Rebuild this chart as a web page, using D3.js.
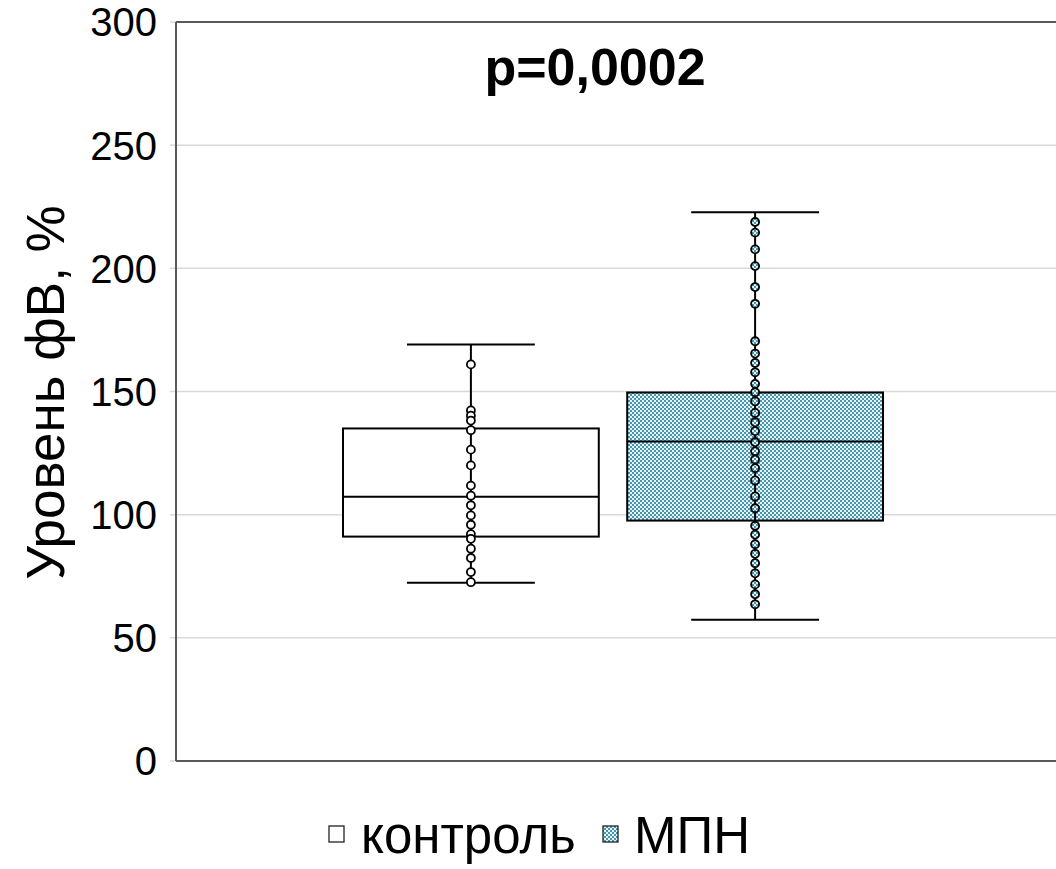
<!DOCTYPE html>
<html>
<head>
<meta charset="utf-8">
<script src="https://cdn.jsdelivr.net/npm/d3@7"></script>
<style>
  body { margin: 0; background: #fff; }
  text { font-family: "Liberation Sans", Arial, sans-serif; }
</style>
</head>
<body>
<div id="container"></div>
<script>
/* data */
var series = ["контроль", "МПН"];
var boxMin    = [72.4, 57.3];
var boxQ1     = [91.1, 97.6];
var boxMedian = [107.3, 129.7];
var boxQ3     = [135, 149.6];
var boxMax    = [169.1, 222.8];
var pointsControl = [161, 142.3, 140.2, 138.2, 134.3, 126.4, 120, 111.8, 107.7, 103.8, 99.7, 95.9, 92.1, 90.2, 86.2, 82.4, 76.7, 72.6];
var pointsMPN = [218.8, 214.5, 207.7, 200.9, 192.4, 185.6, 170.4, 165.4, 161.6, 157.8, 153.1, 149.7, 146, 141.3, 137.5, 133.9, 129.4, 125.7, 122.4, 118.9, 113.9, 107.4, 102.6, 95.5, 91.9, 88, 84.1, 80.3, 76.2, 71.7, 67.7, 63.6];
var yTicks = [0, 50, 100, 150, 200, 250, 300];
var pLabel = "p=0,0002";
var yTitle = "Уровень фВ, %";

var width = 1056, height = 869;
var margin = { top: 22, bottom: 108, left: 176, right: 6 };

var svg = d3.select("#container")
            .append("svg")
            .attr("width", width)
            .attr("height", height)

/* hatch pattern for the МПН box */
var defs = svg.append("defs")
var pat = defs.append("pattern")
              .attr("id", "hatch")
              .attr("patternUnits", "userSpaceOnUse")
              .attr("width", 4)
              .attr("height", 4)
pat.append("rect").attr("width", 4).attr("height", 4).attr("fill", "#e6f2f5")
pat.append("rect").attr("x", 0).attr("y", 0).attr("width", 2).attr("height", 2).attr("fill", "#4797ac")
pat.append("rect").attr("x", 2).attr("y", 2).attr("width", 2).attr("height", 2).attr("fill", "#4797ac")

var fills = ["#ffffff", "url(#hatch)"];
var pointSets = [pointsControl, pointsMPN];

var y = d3.scaleLinear()
          .domain([0, 300])
          .range([height - margin.bottom, margin.top])

var x = d3.scaleBand()
          .domain(series)
          .range([343, 883])
          .paddingInner(0.1)

/* gridlines */
svg.append("g")
   .selectAll("line")
   .data(yTicks)
   .enter().append("line")
     .attr("x1", margin.left - 6)
     .attr("x2", width)
     .attr("y1", function(d) { return y(d) })
     .attr("y2", function(d) { return y(d) })
     .attr("stroke", "#d9d9d9")
     .attr("stroke-width", 1.5)

/* frame lines: top, bottom, left */
var frame = svg.append("g").attr("stroke", "#595959").attr("stroke-width", 2)
frame.append("line").attr("x1", margin.left).attr("x2", width).attr("y1", y(300)).attr("y2", y(300))
frame.append("line").attr("x1", margin.left).attr("x2", width).attr("y1", y(0)).attr("y2", y(0))
frame.append("line").attr("x1", margin.left).attr("x2", margin.left).attr("y1", y(300)).attr("y2", y(0))

/* tick labels */
svg.append("g")
   .selectAll("text")
   .data(yTicks)
   .enter().append("text")
     .attr("x", 157)
     .attr("y", function(d) { return y(d) })
     .attr("dy", "0.36em")
     .attr("text-anchor", "end")
     .attr("font-size", 40)
     .attr("fill", "#000")
     .text(function(d) { return d })

/* y title */
svg.append("text")
   .attr("transform", "translate(64," + (y(150) + 1) + ") rotate(-90)")
   .attr("text-anchor", "middle")
   .attr("font-size", 53)
   .attr("fill", "#000")
   .text(yTitle)

/* p value */
svg.append("text")
   .attr("x", 595)
   .attr("y", 85)
   .attr("text-anchor", "middle")
   .attr("font-size", 52)
   .attr("font-weight", "bold")
   .attr("fill", "#000")
   .text(pLabel)

/* boxes */
var boxes = svg.append("g")
  .selectAll("g")
  .data(series)
  .enter().append("g")

boxes.each(function(s, i) {
  var g = d3.select(this)
  var x0 = x(s), bw = x.bandwidth(), cx = x0 + bw / 2
  // whisker
  g.append("line")
   .attr("x1", cx).attr("x2", cx)
   .attr("y1", y(boxMin[i])).attr("y2", y(boxMax[i]))
   .attr("stroke", "#000").attr("stroke-width", 2)
  g.append("rect")
   .attr("x", x0)
   .attr("y", y(boxQ3[i]))
   .attr("width", bw)
   .attr("height", y(boxQ1[i]) - y(boxQ3[i]))
   .attr("fill", fills[i])
   .attr("stroke", "#000")
   .attr("stroke-width", 2)
  g.append("line")
   .attr("x1", cx).attr("x2", cx)
   .attr("y1", y(boxQ3[i])).attr("y2", y(boxQ1[i]))
   .attr("stroke", "#000").attr("stroke-width", 2)
  g.append("line")
   .attr("x1", x0).attr("x2", x0 + bw)
   .attr("y1", y(boxMedian[i])).attr("y2", y(boxMedian[i]))
   .attr("stroke", "#000").attr("stroke-width", 2)
  // caps
  g.selectAll(".cap")
   .data([boxMin[i], boxMax[i]])
   .enter().append("line")
     .attr("class", "cap")
     .attr("x1", cx - bw / 4).attr("x2", cx + bw / 4)
     .attr("y1", function(d) { return y(d) })
     .attr("y2", function(d) { return y(d) })
     .attr("stroke", "#000").attr("stroke-width", 2)
  // points
  g.selectAll("circle")
   .data(pointSets[i])
   .enter().append("circle")
     .attr("cx", cx)
     .attr("cy", function(d) { return y(d) })
     .attr("r", 4)
     .attr("fill", fills[i])
     .attr("stroke", "#000")
     .attr("stroke-width", 1.8)
})

/* legend */
var legX = [329, 603], legTextX = [361, 634];
var legend = svg.append("g")
  .selectAll("g")
  .data(series)
  .enter().append("g")
legend.append("rect")
  .attr("x", function(d, i) { return legX[i] })
  .attr("y", 826)
  .attr("width", 15)
  .attr("height", 16)
  .attr("fill", function(d, i) { return fills[i] })
  .attr("stroke", "#222")
  .attr("stroke-width", 1.3)
legend.append("text")
  .attr("x", function(d, i) { return legTextX[i] })
  .attr("y", 853)
  .attr("font-size", 51)
  .attr("fill", "#000")
  .text(function(d) { return d })
</script>
</body>
</html>
